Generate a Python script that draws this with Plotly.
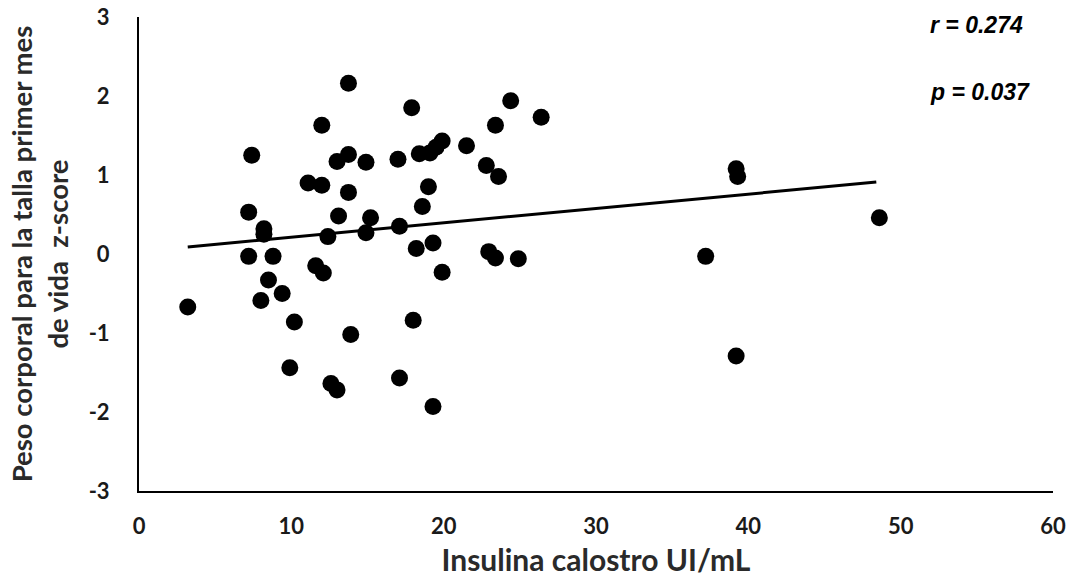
import plotly.graph_objects as go

# Insulin in colostrum (UI/mL) vs weight-for-length z-score at one month
insulina = [3.2, 7.2, 7.4, 7.2, 8.2, 8.2, 8.0, 8.5, 8.8, 9.4, 10.2, 9.9,
            11.1, 12.0, 12.0, 11.6, 12.1, 12.4, 13.1, 13.0, 13.75, 13.75, 13.75,
            12.6, 13.0, 13.9, 14.9, 14.9, 15.2, 17.0, 17.1, 17.1, 17.9, 18.0,
            18.2, 18.4, 18.6, 19.0, 19.3, 19.1, 19.5, 19.9, 19.9, 19.3, 21.5,
            22.8, 22.96, 23.4, 23.4, 23.6, 24.4, 24.9, 26.4, 37.2, 39.2, 39.3,
            39.2, 48.6]
zscore = [-0.67, 0.53, 1.25, -0.03, 0.32, 0.25, -0.59, -0.33, -0.03, -0.50, -0.86, -1.44,
          0.90, 0.87, 1.63, -0.15, -0.24, 0.22, 0.48, 1.17, 2.16, 1.26, 0.78,
          -1.64, -1.72, -1.02, 1.16, 0.27, 0.46, 1.20, 0.35, -1.57, 1.85, -0.84,
          0.07, 1.27, 0.60, 0.85, 0.14, 1.28, 1.35, 1.43, -0.23, -1.93, 1.37,
          1.12, 0.03, -0.05, 1.63, 0.98, 1.94, -0.06, 1.73, -0.03, 1.08, 0.98,
          -1.29, 0.46]

# Linear trend line end points
tendencia_x = [3.2, 48.4]
tendencia_y = [0.09, 0.91]

x_ticks = [0, 10, 20, 30, 40, 50, 60]
x_labels = ["0", "10", "20", "30", "40", "50", "60"]
y_ticks = [-3, -2, -1, 0, 1, 2, 3]
y_labels = ["-3", "-2", "-1", "0", "1", "2", "3"]

fig = go.Figure()
fig.add_trace(go.Scatter(
    x=insulina, y=zscore, mode="markers",
    marker=dict(size=17, color="black", line=dict(width=0)),
    showlegend=False, hoverinfo="x+y"))
fig.add_trace(go.Scatter(
    x=tendencia_x, y=tendencia_y, mode="lines",
    line=dict(color="black", width=3), showlegend=False, hoverinfo="skip"))

tick_font = dict(family="Lato", size=22, color="#1a1a1a", weight="bold")

fig.update_xaxes(
    range=[0, 60], tickvals=x_ticks, ticktext=x_labels, ticks="",
    showgrid=False, zeroline=False, automargin=False,
    showline=True, linecolor="black", linewidth=2, tickfont=tick_font,
    ticklabelstandoff=15,
    title=dict(text="<b>Insulina calostro UI/mL</b>",
               font=dict(family="Lato", size=30, color="#2a2a2a"), standoff=12))
fig.update_yaxes(
    range=[-3, 3], tickvals=y_ticks, ticktext=y_labels, ticks="",
    showgrid=False, zeroline=False, automargin=False,
    showline=True, linecolor="black", linewidth=2, tickfont=tick_font,
    ticklabelstandoff=23,
    title=dict(text="<b>Peso corporal para la talla primer mes<br>de vida&nbsp;&nbsp;z-score</b>",
               font=dict(family="Lato", size=27.5, color="#2a2a2a"), standoff=12))

ann_font = dict(family="Liberation Sans", size=23, color="black")
fig.add_annotation(x=0.863, y=1.0, xref="paper", yref="paper", xanchor="left",
                   yanchor="middle", yshift=-8, showarrow=False,
                   text="<b><i>r = 0.274</i></b>", font=ann_font)
fig.add_annotation(x=0.863, y=1.0, xref="paper", yref="paper", xanchor="left",
                   yanchor="middle", yshift=-75, showarrow=False,
                   text="<b><i>p = 0.037</i></b>", font=ann_font)

fig.update_layout(
    width=1078, height=586,
    margin=dict(l=139, r=25, t=17, b=95),
    plot_bgcolor="white", paper_bgcolor="white")

fig.write_html("out.html")
